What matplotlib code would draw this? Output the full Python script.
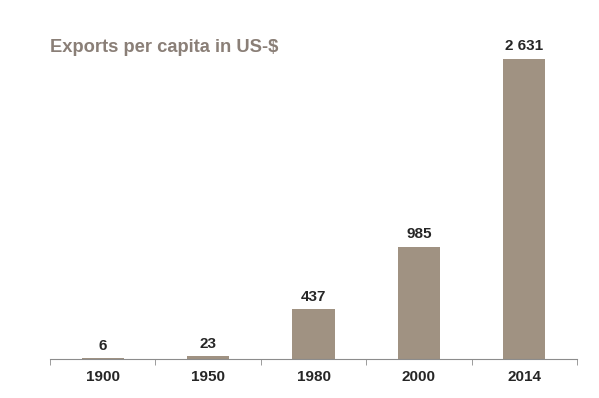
import matplotlib
matplotlib.use("Agg")
import matplotlib.pyplot as plt

years = ["1900", "1950", "1980", "2000", "2014"]
values = [6, 23, 437, 985, 2631]
labels = ["6", "23", "437", "985", "2 631"]

plt.rcParams['font.family'] = ['Liberation Sans', 'DejaVu Sans']

fig = plt.figure(figsize=(5.99, 3.98), dpi=100)
ax = fig.add_axes([50/599, 39/398, 527/599, 300/398])
x = list(range(len(years)))
ax.bar(x, values, width=0.4, color="#a09282")
ax.set_xlim(-0.5, 4.5)
ax.set_ylim(0, 2631)
for xi, v, l in zip(x, values, labels):
    ax.annotate(l, (xi, v), xytext=(0, 4), textcoords="offset points",
                ha="center", va="bottom", fontsize=11, fontweight="bold",
                color="#262626", annotation_clip=False)
for s in ["top", "right", "left"]:
    ax.spines[s].set_visible(False)
ax.spines["bottom"].set_color("#8c8c8c")
ax.yaxis.set_visible(False)
ax.set_xticks(x)
ax.set_xticklabels(years, fontsize=11, fontweight="bold", color="#262626")
ax.tick_params(axis="x", which="major", length=0, pad=8)
ax.set_xticks([i - 0.5 for i in range(len(years) + 1)], minor=True)
ax.tick_params(axis="x", which="minor", length=4, color="#8c8c8c")
fig.text(50/599, 1 - 47/398, "Exports per capita in US-$", fontsize=13.2,
         fontweight="bold", color="#8a7f77", ha="left", va="center")
fig.savefig("out.png", dpi=100)
